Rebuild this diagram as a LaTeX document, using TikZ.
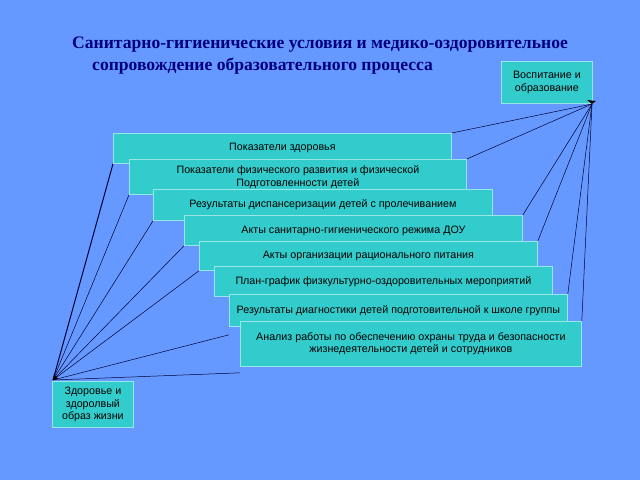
\documentclass[tikz,border=0pt]{standalone}
\usepackage{fontspec}
\setmainfont{Liberation Serif}
\newfontfamily\boxfont{Liberation Sans}
\definecolor{bgblue}{HTML}{6699FF}
\definecolor{teal}{HTML}{33CCCC}
\definecolor{navy}{HTML}{000080}
\tikzset{
  item/.style={draw=teal!50!white, fill=teal, line width=0.8pt, font=\boxfont\fontsize{10.7}{12.5}\selectfont,
    align=center, inner sep=0pt, anchor=north west},
  link/.style={draw=black!80!blue, line width=0.5pt},
  heading/.style={font=\bfseries\fontsize{17.6}{20}\selectfont, color=navy, anchor=west, inner sep=0pt}
}
\begin{document}
\begin{tikzpicture}[x=1pt,y=-1pt]
  \fill[bgblue] (0,0) rectangle (640,480);
  \useasboundingbox (0,0) rectangle (640,480);

  \node[heading] (t1) at (72,45) {Санитарно-гигиенические условия и медико-оздоровительное};
  \node[heading] (t2) at (92,66) {сопровождение образовательного процесса};

  \node[item, minimum width=91, minimum height=42] (vo) at (501,61) {Воспитание и\\образование};
  \node[item, minimum width=81, minimum height=46] (zd) at (52,381) {Здоровье и\\здоролвый\\образ жизни};
  \coordinate (p) at (592,104);
  \coordinate (q) at (53,380);

  \node[item, minimum width=338, minimum height=30] (b1) at (113,133) {Показатели здоровья};
  \node[item, minimum width=337, minimum height=35] (b2) at (129,159)
    {Показатели физического развития и физической\\Подготовленности детей};
  \node[item, minimum width=339, minimum height=31] (b3) at (153,189) {Результаты диспансеризации детей с пролечиванием};
  \node[item, minimum width=338, minimum height=30] (b4) at (184,215) {Акты санитарно-гигиенического режима ДОУ};
  \node[item, minimum width=338, minimum height=29] (b5) at (199,241) {Акты организации рационального питания};
  \node[item, minimum width=338, minimum height=30] (b6) at (214,266) {План-график физкультурно-оздоровительных мероприятий};
  \node[item, minimum width=338, minimum height=32] (b7) at (229,294) {Результаты диагностики детей подготовительной к школе группы};
  \node[item, minimum width=341, minimum height=45] (b8) at (240,321)
    {Анализ работы по обеспечению охраны труда и безопасности\\жизнедеятельности детей и сотрудников};

  % links to the top right box
  \foreach \b in {b1,b2,b4,b5,b7,b8}
    \draw[link] (\b.north east) -- (p);
  \fill[black] (p) -- ++(-5,-4) -- ++(9,1) -- cycle;

  % links to the bottom left box
  \draw[link, line width=1pt] (b1.south west) -- (q);
  \foreach \b in {b2,b3,b4,b5}
    \draw[link] (\b.south west) -- (q);
  \draw[link] ([yshift=-8]b7.south west) -- (q);
  \draw[link] ([yshift=-6]b8.south west) -- (q);
  \fill[black] (q) -- ++(1,-6) -- ++(4,5) -- cycle;
\end{tikzpicture}
\end{document}
